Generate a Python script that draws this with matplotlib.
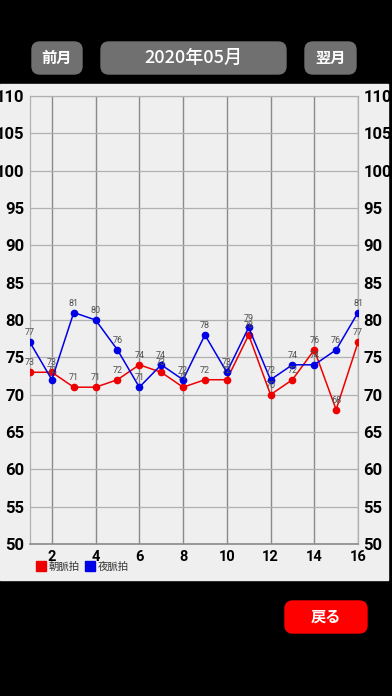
"""
    monthly pulse chart (2020-05)
"""

import matplotlib
matplotlib.use('Agg')
import matplotlib.pyplot as plt
from matplotlib.patches import Rectangle, FancyBboxPatch
from matplotlib.lines import Line2D

plt.rcParams['font.family'] = ['Roboto', 'Noto Sans CJK JP', 'DejaVu Sans']
JP = ['Noto Sans CJK JP', 'DejaVu Sans']

days = [1, 2, 3, 4, 5, 6, 7, 8, 9, 10, 11, 12, 13, 14, 15, 16]
morning = [73, 73, 71, 71, 72, 74, 73, 71, 72, 72, 78, 70, 72, 76, 68, 77]
night = [77, 72, 81, 80, 76, 71, 74, 72, 78, 73, 79, 72, 74, 74, 76, 81]
xticks = [2, 4, 6, 8, 10, 12, 14, 16]
yticks = [50, 55, 60, 65, 70, 75, 80, 85, 90, 95, 100, 105, 110]
series_names = ['朝脈拍', '夜脈拍']
title = '2020年05月'

W, H = 392, 696

def box(x0, y0, x1, y1):
    # pixel box (top-left origin) -> figure fraction
    return x0 / W, 1 - y1 / H, (x1 - x0) / W, (y1 - y0) / H

fig = plt.figure(figsize=(W / 100, H / 100), dpi=100, facecolor='black')

# light panel behind the chart
l, b, w, h = box(0, 84, 388, 580)
fig.patches.append(Rectangle((l, b), w, h, transform=fig.transFigure,
                             color='#efefef', zorder=-5))

def button(x0, y0, x1, y1, text, color, size, weight='bold', family=JP):
    l, b, w, h = box(x0, y0, x1, y1)
    fig.patches.append(FancyBboxPatch((l, b), w, h, transform=fig.transFigure,
                                      boxstyle='round,pad=0,rounding_size=0.02',
                                      mutation_aspect=W / H, color=color, zorder=1))
    fig.text(l + w / 2, b + h / 2, text, color='white', fontsize=size, family=family,
             ha='center', va='center', fontweight=weight, zorder=2)

button(32, 42, 82, 74, '前月', '#707070', 11)
button(101, 42, 286, 74, title, '#707070', 13, 'medium')
button(305, 42, 356, 74, '翌月', '#707070', 11)
button(285, 601, 367, 633, '戻る', '#ff0000', 11)

ax = fig.add_axes(box(30, 96, 358, 544))
ax.set_facecolor('#efefef')

ax.plot(days, morning, '-o', color='#ee0000', lw=1.1, ms=4.5, zorder=3)
ax.plot(days, night, '-o', color='#0000e6', lw=1.1, ms=4.5, zorder=4)

for d, v in zip(days, morning):
    ax.annotate(str(v), (d, v), xytext=(0, 5), textcoords='offset points',
                ha='center', fontsize=6.5, color='#505050', zorder=5)
for d, v in zip(days, night):
    ax.annotate(str(v), (d, v), xytext=(0, 5), textcoords='offset points',
                ha='center', fontsize=6.5, color='#505050', zorder=5)

ax.set_xlim(1, 16)
ax.set_ylim(50, 110)
ax.set_xticks(xticks)
ax.set_yticks(yticks)
ax.grid(axis='y', color='#b0b0b0', lw=0.9)
for x in xticks:
    ax.axvline(x, color='#8a8a8a', lw=1.0, zorder=1)
for s in ax.spines.values():
    s.set_color('#b0b0b0')
    s.set_linewidth(0.9)
ax.spines['bottom'].set_color('#8a8a8a')
ax.spines['bottom'].set_linewidth(1.2)

ax.tick_params(axis='both', length=0)
ax.tick_params(axis='y', labelsize=12, labelright=True, pad=4)
ax.tick_params(axis='x', labelsize=10.5, pad=4)
for t in ax.yaxis.get_major_ticks():
    t.label1.set_fontweight('bold')
    t.label2.set_fontweight('bold')
for t in ax.xaxis.get_major_ticks():
    t.label1.set_fontweight('bold')

handles = [Line2D([], [], ls='', marker='s', ms=6.5, color='#ee0000'),
           Line2D([], [], ls='', marker='s', ms=6.5, color='#0000e6')]
fig.legend(handles, series_names, loc='center left', ncol=2, frameon=False,
           bbox_to_anchor=(32 / W, 1 - 567 / H), fontsize=7.5,
           handlelength=0.8, handletextpad=0.3, columnspacing=0.6,
           borderpad=0, labelcolor='#333333', prop={'family': JP, 'size': 7.5})

plt.savefig('out.png', dpi=100, facecolor='black')
